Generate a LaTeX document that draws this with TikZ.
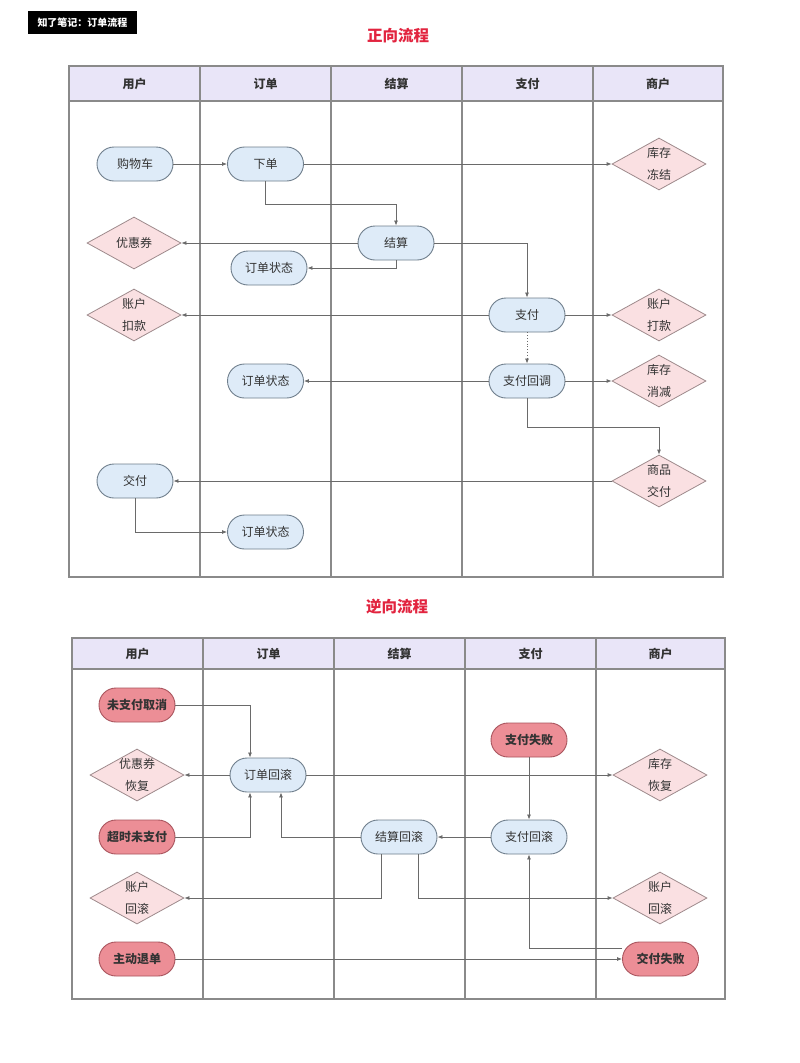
\documentclass[tikz,border=0pt]{standalone}
\usepackage{fontspec}
\setmainfont{Noto Sans CJK SC}
\usetikzlibrary{shapes.geometric,arrows.meta}
\definecolor{lane}{HTML}{8A8A8A}
\definecolor{hdr}{HTML}{E9E5F8}
\definecolor{pillfill}{HTML}{DEEBF8}
\definecolor{pilldraw}{HTML}{6F7E8C}
\definecolor{diafill}{HTML}{FAE0E2}
\definecolor{diadraw}{HTML}{9E8A8C}
\definecolor{redfill}{HTML}{EC8E96}
\definecolor{reddraw}{HTML}{A9545D}
\definecolor{ttl}{HTML}{E2243F}
\definecolor{wire}{HTML}{6A6A6A}
\tikzset{
  pill/.style={draw=pilldraw, fill=pillfill, line width=0.9pt, rectangle, rounded corners=17pt,
    minimum width=76pt, minimum height=34pt, inner sep=0pt, font=\fontsize{12}{14}\selectfont, text=black!80},
  redpill/.style={pill, fill=redfill, draw=reddraw, font=\fontsize{12}{14}\selectfont\bfseries},
  dia/.style={draw=diadraw, fill=diafill, line width=0.8pt, diamond, minimum width=94pt, minimum height=52pt,
    inner sep=0pt},
  dialabel/.style={align=center, font=\fontsize{12}{22}\selectfont, text=black!80, inner sep=0pt},
  arr/.style={draw=wire, line width=0.8pt, -{Latex[length=5pt,width=4pt]}},
  hdrtext/.style={font=\fontsize{12}{14}\selectfont\bfseries, text=black!80},
  ttltext/.style={font=\fontsize{15.5}{18}\selectfont\bfseries, text=ttl},
}
\begin{document}
\begin{tikzpicture}[x=1pt,y=-1pt]
\useasboundingbox (0,0) rectangle (800,1063);
\fill[white] (0,0) rectangle (800,1063);
% label
\node[fill=black, text=white, font=\fontsize{10}{12}\selectfont\bfseries, minimum width=109pt, minimum height=23pt, inner sep=0pt] (tag) at (82.5,22.5) {知了笔记：订单流程};
% ===== top table =====
\node[ttltext] (t1) at (398,36) {正向流程};
\fill[hdr] (69,66) rectangle (723,101);
\draw[lane, line width=1.1pt] (69,66) rectangle (723,577);
\draw[lane, line width=1.1pt] (69,101) -- (723,101);
\foreach \x in {200,331,462,593} \draw[lane, line width=1.1pt] (\x,66) -- (\x,577);
\node[hdrtext] (h1) at (134.5,83.5) {用户};
\node[hdrtext] (h2) at (265.5,83.5) {订单};
\node[hdrtext] (h3) at (396.5,83.5) {结算};
\node[hdrtext] (h4) at (527.5,83.5) {支付};
\node[hdrtext] (h5) at (658,83.5) {商户};

\node[pill] (gwc) at (135,164) {购物车};
\node[pill] (xd) at (265.5,164) {下单};
\node[dia, label={[dialabel]center:库存\\冻结}] (kcdj) at (659,164) {};
\node[pill] (js) at (396,243) {结算};
\node[dia, label={[dialabel]center:优惠券}] (yhq) at (134,243) {};
\node[pill] (dd1) at (269,268) {订单状态};
\node[pill] (zf) at (527,315) {支付};
\node[dia, label={[dialabel]center:账户\\扣款}] (zhkk) at (134,315) {};
\node[dia, label={[dialabel]center:账户\\打款}] (zhdk) at (659,315) {};
\node[pill] (zfhd) at (527,381) {支付回调};
\node[dia, label={[dialabel]center:库存\\消减}] (kcxj) at (659,381) {};
\node[pill] (dd2) at (265.5,381) {订单状态};
\node[dia, label={[dialabel]center:商品\\交付}] (spjf) at (659,481) {};
\node[pill] (jf) at (135,481) {交付};
\node[pill] (dd3) at (265.5,532) {订单状态};

\draw[arr] (gwc) -- (xd);
\draw[arr] (xd) -- (kcdj);
\draw[arr] (xd.south) -- ++(0,23) -| (js.north);
\draw[arr] (js) -- (yhq);
\draw[arr] (js.south) |- (dd1.east);
\draw[arr] (js.east) -| (zf.north);
\draw[arr] (zf) -- (zhkk);
\draw[arr] (zf) -- (zhdk);
\draw[arr, dotted] (zf) -- (zfhd);
\draw[arr] (zfhd) -- (kcxj);
\draw[arr] (zfhd) -- (dd2);
\draw[arr] (zfhd.south) -- ++(0,29) -| (spjf.north);
\draw[arr] (spjf) -- (jf);
\draw[arr] (jf.south) |- (dd3.west);

% ===== bottom table =====
\node[ttltext] (t2) at (397,607) {逆向流程};
\fill[hdr] (72,638) rectangle (725,669);
\draw[lane, line width=1.1pt] (72,638) rectangle (725,999);
\draw[lane, line width=1.1pt] (72,669) -- (725,669);
\foreach \x in {203,334,465,596} \draw[lane, line width=1.1pt] (\x,638) -- (\x,999);
\node[hdrtext] (g1) at (137.5,653.5) {用户};
\node[hdrtext] (g2) at (268.5,653.5) {订单};
\node[hdrtext] (g3) at (399.5,653.5) {结算};
\node[hdrtext] (g4) at (530.5,653.5) {支付};
\node[hdrtext] (g5) at (660.5,653.5) {商户};

\node[redpill] (wzf) at (137,705) {未支付取消};
\node[pill] (ddhg) at (268,775) {订单回滚};
\node[dia, label={[dialabel]center:优惠券\\恢复}] (yhhf) at (137,775) {};
\node[dia, label={[dialabel]center:库存\\恢复}] (kchf) at (660,775) {};
\node[redpill] (zfsb) at (529,740) {支付失败};
\node[pill] (zfhg) at (529,837) {支付回滚};
\node[pill] (jshg) at (399,837) {结算回滚};
\node[redpill] (cs) at (137,837) {超时未支付};
\node[dia, label={[dialabel]center:账户\\回滚}] (zhL) at (137,898) {};
\node[dia, label={[dialabel]center:账户\\回滚}] (zhR) at (660,898) {};
\node[redpill] (zdtd) at (137,959) {主动退单};
\node[redpill] (jfsb) at (660.5,959) {交付失败};

\draw[arr] (wzf.east) -| ([xshift=-18pt]ddhg.north);
\draw[arr] (ddhg) -- (yhhf);
\draw[arr] (ddhg) -- (kchf);
\draw[arr] (zfsb) -- (zfhg);
\draw[arr] (zfhg) -- (jshg);
\draw[arr] (cs.east) -| ([xshift=-18pt]ddhg.south);
\draw[arr] (jshg.west) -| ([xshift=13pt]ddhg.south);
\draw[arr] ([xshift=-18pt]jshg.south) |- (zhL.east);
\draw[arr] ([xshift=19pt]jshg.south) |- (zhR.west);
\draw[arr] ([yshift=11pt]jfsb.west) -| (zfhg.south);
\draw[arr] (zdtd) -- (jfsb);
\end{tikzpicture}
\end{document}
